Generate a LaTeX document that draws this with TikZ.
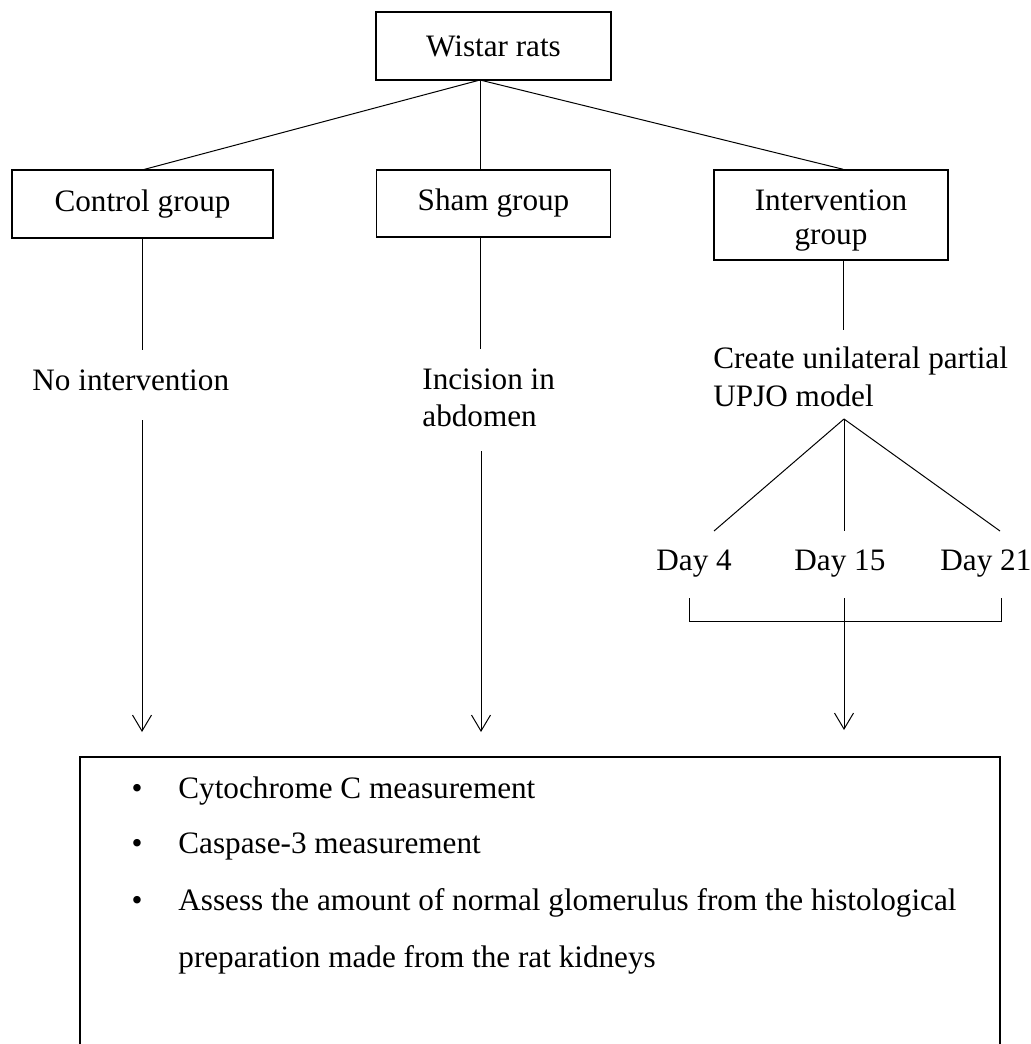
\documentclass[tikz,border=0pt]{standalone}
\usepackage{fontspec}
\setmainfont{Liberation Serif}
\usetikzlibrary{arrows.meta}
\begin{document}
\begin{tikzpicture}[x=0.5pt,y=-0.5pt,
  every node/.style={font=\fontsize{15.6pt}{17pt}\selectfont, inner sep=0pt},
  box/.style={draw, line width=0.75pt, align=center},
  txt/.style={anchor=base west},
  bul/.style={anchor=base},
  conn/.style={line width=0.5pt},
  arr/.style={line width=0.5pt, -{Straight Barb[length=8pt,width=9.5pt]}}]

\path[use as bounding box] (0,0) rectangle (1031,1044);
\clip (0,0) rectangle (1031,1044);

% boxes
\node[box, minimum width=117.5pt, minimum height=34pt] (w) at (493.5,46) {Wistar rats};
\node[box, minimum width=130.5pt, minimum height=34pt] (c) at (142.5,204) {Control group};
\node[box, minimum width=117pt, minimum height=33.5pt] (s) at (493.5,203.5) {Sham group};
\node[box, minimum width=117pt, minimum height=45pt] (i) at (831,215) {};
\node[align=center] (it) at (831,221) {Intervention\\group};

% branch points
\coordinate (wa) at (480,80);
\coordinate (ix) at (843,0);
\draw[conn] (wa) -- (142,170);
\draw[conn] (wa) -- (wa |- s.north);
\draw[conn] (wa) -- (ix |- i.north);

% second level texts
\node[txt] (noint) at (32,390) {No intervention};
\node[txt] (inc1) at (422,389) {Incision in};
\node[txt] (inc2) at (422,426) {abdomen};
\node[txt] (cr1) at (713,368) {Create unilateral partial};
\node[txt] (cr2) at (713,406) {UPJO model};

\coordinate (cx) at (142,0);
\coordinate (c1) at (142,350);
\coordinate (s1) at (480,349);
\coordinate (i1) at (843,330);
\draw[conn] (cx |- c.south) -- (c1);
\draw[conn] (wa |- s.south) -- (s1);
\draw[conn] (ix |- i.south) -- (i1);

% days
\node[txt] (d4) at (656,570) {Day 4};
\node[txt] (d15) at (794,570) {Day 15};
\node[txt] (d21) at (940,570) {Day 21};
\coordinate (ap) at (844,419);
\coordinate (a4) at (714,531);
\coordinate (a15) at (844,531);
\coordinate (a21) at (1000,531);
\draw[conn] (ap) -- (a4);
\draw[conn] (ap) -- (a15);
\draw[conn] (ap) -- (a21);

% bracket
\coordinate (k4) at (689,598);
\coordinate (k15) at (844,598);
\coordinate (k21) at (1001,598);
\draw[conn] (k4) -- (689,621) -- (1001,621) -- (k21);

% results box
\node[draw, line width=0.9pt, minimum width=460pt, minimum height=200pt, anchor=north west] (res) at (79,756) {};

% arrows
\coordinate (ca) at (142,420);
\coordinate (sa) at (481,451);
\draw[arr] (ca) -- (ca |- 0,732);
\draw[arr] (sa) -- (sa |- 0,732);
\draw[arr] (k15) -- (844,730);

% list
\node[bul] (p1) at (137,798) {•};
\node[bul] (p2) at (137,853) {•};
\node[bul] (p3) at (137,910) {•};
\node[txt] (b1) at (178,798) {Cytochrome C measurement};
\node[txt] (b2) at (178,853) {Caspase-3 measurement};
\node[txt] (b3) at (178,910) {Assess the amount of normal glomerulus from the histological};
\node[txt] (b4) at (178,967) {preparation made from the rat kidneys};
\end{tikzpicture}
\end{document}
